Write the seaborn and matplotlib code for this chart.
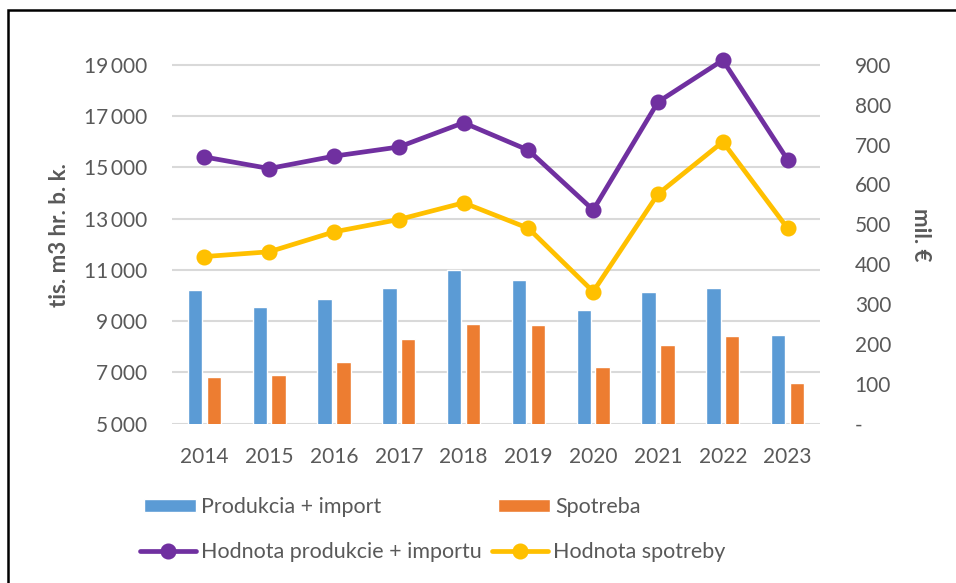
import matplotlib
matplotlib.use("Agg")
import matplotlib.pyplot as plt
from matplotlib.patches import Rectangle
from matplotlib.ticker import FuncFormatter, FixedLocator, MultipleLocator
import seaborn as sns
import pandas as pd

# data
years = ["2014", "2015", "2016", "2017", "2018", "2019", "2020", "2021", "2022", "2023"]
produkcia_import = [10200, 9550, 9850, 10300, 11000, 10600, 9450, 10150, 10300, 8450]
spotreba = [6800, 6900, 7400, 8300, 8900, 8850, 7200, 8050, 8400, 6600]
hodnota_produkcie = [669, 640, 671, 694, 755, 686, 536, 807, 912, 662]
hodnota_spotreby = [419, 431, 481, 512, 554, 490, 331, 576, 707, 490]

left_ticks = [5000, 7000, 9000, 11000, 13000, 15000, 17000, 19000]
bar_labels = ["Produkcia + import", "Spotreba"]
line_labels = ["Hodnota produkcie + importu", "Hodnota spotreby"]

BLUE, ORANGE = "#5B9BD5", "#ED7D31"
PURPLE, YELLOW = "#7030A0", "#FFC000"
GREY_TXT = "#595959"
GRID = "#D9D9D9"

sns.set_style("white")
plt.rcParams["font.family"] = ["Lato", "DejaVu Sans"]

df_bars = pd.DataFrame({
    "year": years * 2,
    "value": produkcia_import + spotreba,
    "series": [bar_labels[0]] * len(years) + [bar_labels[1]] * len(years),
})

W, H = 956, 583
fig = plt.figure(figsize=(W / 100, H / 100), dpi=100)
ax = fig.add_axes([172 / W, 1 - 423.5 / H, (820 - 172) / W, (423.5 - 47) / H])
ax2 = ax.twinx()

sns.barplot(data=df_bars, x="year", y="value", hue="series", order=years,
            palette=[BLUE, ORANGE], saturation=1, width=0.58, gap=0.23,
            errorbar=None, ax=ax, legend=False)

for vals, col in [(hodnota_produkcie, PURPLE), (hodnota_spotreby, YELLOW)]:
    sns.pointplot(x=years, y=vals, order=years, color=col, errorbar=None,
                  markers="o", linewidth=3.4, markersize=9, ax=ax2)

ax.set_xlim(-0.5, len(years) - 0.5)
ax.set_ylim(5000, 19700)
ax2.set_ylim(0, 14700 * 900 / 14000)
ax.yaxis.set_major_locator(FixedLocator(left_ticks))
ax2.yaxis.set_major_locator(MultipleLocator(100))
ax.yaxis.set_major_formatter(FuncFormatter(lambda v, p: f"{int(v):,}".replace(",", "\u2009")))
ax2.yaxis.set_major_formatter(FuncFormatter(lambda v, p: "-" if v == 0 else f"{int(v)}"))

ax.set_axisbelow(True)
ax.grid(axis="y", color=GRID, linewidth=1.5)
ax.grid(axis="x", visible=False)
ax2.grid(False)
for a in (ax, ax2):
    for s in a.spines.values():
        s.set_visible(False)
    a.tick_params(length=0, labelsize=15, labelcolor=GREY_TXT)
ax.tick_params(axis="y", pad=18)
ax.tick_params(axis="x", pad=17)
ax2.tick_params(axis="y", pad=25)

ax.set_xlabel("")
ax.set_ylabel("tis. m3 hr. b. k.", fontsize=16, fontweight="bold", color=GREY_TXT)
ax.yaxis.set_label_coords(-(172 - 70) / 648, 0.5)
ax2.set_ylabel("mil. €", fontsize=16, fontweight="bold", color=GREY_TXT, rotation=270,
               va="center")
ax2.yaxis.set_label_coords(1 + 100 / 648, 0.5)

# legend entries, placed like the Excel legend
bar_handles = [c.patches[0] for c in ax.containers]
line_handles = [ln for ln in ax2.lines if len(ln.get_xdata()) == len(years)]
entries = [
    (bar_handles[0], bar_labels[0], 144, 507, 2.4),
    (bar_handles[1], bar_labels[1], 498, 507, 2.4),
    (line_handles[0], line_labels[0], 140, 552, 2.6),
    (line_handles[1], line_labels[1], 492, 552, 2.6),
]
for h, lab, x, y, hl in entries:
    fig.legend(handles=[h], labels=[lab], loc="center left",
               bbox_to_anchor=(x / W, 1 - y / H), frameon=False, borderpad=0,
               borderaxespad=0, handlelength=hl, handleheight=0.55,
               handletextpad=0.25, fontsize=15.5, labelcolor=GREY_TXT)

fig.patches.append(Rectangle((8 / W, -0.1), 1.1, 1.1 - 10.5 / H, transform=fig.transFigure,
                             fill=False, edgecolor="black", linewidth=1.8))

fig.savefig("out.png", dpi=100)
